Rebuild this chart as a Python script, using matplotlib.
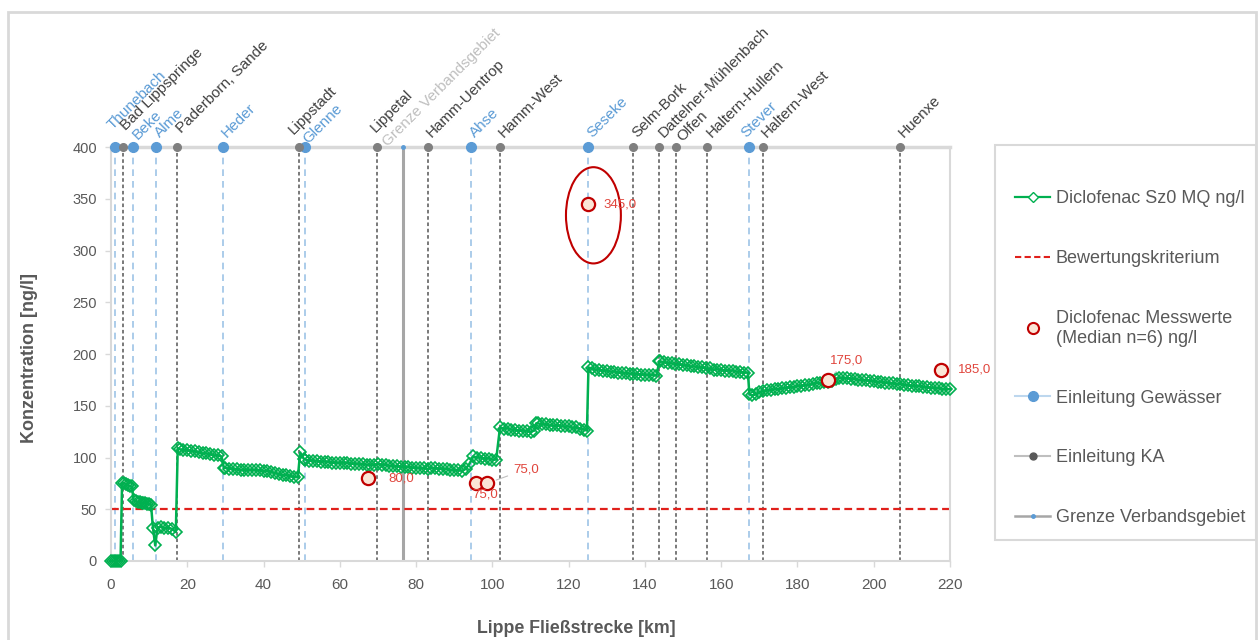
import matplotlib
matplotlib.use("Agg")
import matplotlib.pyplot as plt
from matplotlib.lines import Line2D
from matplotlib.patches import Ellipse, Rectangle

plt.rcParams['font.family'] = ['Liberation Sans', 'DejaVu Sans']

# --- Modelled Diclofenac concentration (Sz0, MQ) along the Lippe -----------
km = [0, 0.5, 1, 1.5, 2, 2.5,
      2.9, 3.5, 4, 4.5, 5, 5.5,
      5.9, 6.5, 7, 7.5, 8, 8.5, 9, 9.5, 10, 10.5,
      11, 11.6, 12.2, 13, 14, 15, 16, 17,
      17.5, 18, 19, 20, 21, 22, 23, 24, 25, 26, 27, 28, 29,
      29.6, 30, 31, 32, 33, 34, 35, 36, 37, 38, 39, 40, 41, 42, 43, 44, 45,
      46, 47, 48, 49,
      49.6, 50.5, 51, 52, 53, 54, 55, 56, 57, 58, 59, 60, 61, 62, 63, 64, 65,
      66, 67, 68, 69, 70, 71, 72, 73, 74, 75, 76, 77, 78, 79, 80, 81, 82, 83,
      84, 85, 86, 87, 88, 89, 90, 91, 92, 93,
      94, 95, 96, 97, 98, 99, 100, 101,
      102, 103, 104, 105, 106, 107, 108, 109, 110, 111, 111.5, 112, 113, 114,
      115, 116, 117, 118, 119, 120, 121, 122, 123, 124, 124.8,
      125.2, 126, 127, 128, 129, 130, 131, 132, 133, 134, 135, 136, 137, 138,
      139, 140, 141, 142, 143,
      143.8, 144, 145, 146, 147, 148, 149, 150, 151, 152, 153, 154, 155, 156,
      157, 158, 159, 160, 161, 162, 163, 164, 165, 166, 167,
      167.4, 168, 169, 170, 171, 172, 173, 174, 175, 176, 177, 178, 179, 180,
      181, 182, 183, 184, 185, 186, 187, 188, 189, 190, 191, 192, 193, 194,
      195, 196, 197, 198, 199, 200, 201, 202, 203, 204, 205, 206, 207, 208,
      209, 210, 211, 212, 213, 214, 215, 216, 217, 218, 219, 220]

sz0 = [0, 0, 0, 0, 0, 0,
       75, 75, 74, 73, 72, 72,
       59, 58, 57, 57, 56, 56, 56, 55, 55, 54,
       32, 15, 32, 33, 32, 32, 31, 28,
       109, 108, 107, 107, 106, 106, 105, 104, 104, 103, 102, 102, 101,
       90, 90, 89, 89, 89, 88, 88, 88, 88, 88, 88, 87, 87, 86, 85, 84, 83,
       83, 82, 81, 81,
       105, 99, 98, 97, 97, 97, 96, 96, 96, 95, 95, 95, 95, 95, 94, 94, 94,
       94, 93, 93, 93, 94, 93, 93, 92, 92, 92, 91, 91, 91, 90, 90, 90, 90, 89,
       90, 90, 89, 89, 89, 88, 88, 88, 87, 89,
       94, 101, 100, 100, 99, 99, 98, 98,
       129, 128, 128, 127, 127, 126, 126, 126, 125, 126, 133, 133, 132, 132,
       131, 131, 131, 130, 130, 130, 129, 129, 128, 127, 126,
       187, 186, 185, 185, 184, 184, 183, 183, 182, 182, 182, 181, 181, 181,
       180, 180, 180, 180, 179,
       193, 193, 192, 191, 191, 190, 190, 189, 189, 188, 188, 187, 187, 186,
       186, 185, 185, 185, 184, 184, 184, 183, 183, 182, 182,
       161, 160, 161, 163, 164, 165, 165, 166, 166, 167, 167, 168, 168, 169,
       169, 170, 170, 171, 172, 172, 173, 173, 174, 176, 177, 177, 177, 176,
       176, 175, 175, 175, 174, 174, 173, 173, 172, 172, 172, 171, 171, 170,
       170, 169, 169, 169, 168, 168, 167, 167, 167, 166, 166, 166]

criterion = 50  # Bewertungskriterium ng/l

# --- Measured medians -------------------------------------------------------
mess_km = [67.4, 95.7, 98.6, 125.1, 188.0, 217.6]
mess_val = [80.0, 75.0, 75.0, 345.0, 175.0, 185.0]

# --- Inflows ---------------------------------------------------------------
gew_names = ["Thunebach", "Beke", "Alme", "Heder", "Glenne", "Ahse",
             "Seseke", "Stever"]
gew_km = [1.0, 5.7, 11.7, 29.3, 50.8, 94.4, 125.1, 167.2]

ka_names = ["Bad Lippspringe", "Paderborn, Sande", "Lippstadt", "Lippetal",
            "Hamm-Uentrop", "Hamm-West", "Selm-Bork", "Dattelner-Mühlenbach",
            "Olfen", "Haltern-Hullern", "Haltern-West", "Huenxe"]
ka_km = [3.1, 17.4, 49.4, 69.8, 83.1, 102.0, 137.0, 143.8, 148.1, 156.4,
         170.9, 206.9]

grenze_name = "Grenze Verbandsgebiet"
grenze_km = 76.6

# label nudges in pixels (dx, dy) for the rotated site names
name_offset = {"Thunebach": (-2, 17), "Bad Lippspringe": (3, 16),
               "Beke": (5, 7), "Paderborn, Sande": (4, 13),
               "Lippstadt": (-6, 12), "Glenne": (4, 3), "Lippetal": (-2, 14),
               grenze_name: (-15, 0), "Olfen": (6, 5), "Stever": (-2, 9)}
default_offset = (4, 9)

# offsets for the value labels of the measurements (pixels, ha, va)
value_offset = [(20, 0, 'left', 'center'), (9, -11, 'center', 'center'),
                (26, 14, 'left', 'center'), (15, -1, 'left', 'center'),
                (19, 19, 'center', 'center'), (17, 0, 'left', 'center')]

GREEN = '#00B050'
BLUE = '#5B9BD5'
LBLUE = '#9DC3E6'
DGREY = '#595959'
RED = '#C00000'
LRED = '#E0453C'

W, H = 1258, 640
fig = plt.figure(figsize=(W / 100, H / 100), dpi=100)
ax = fig.add_axes([111 / W, 1 - 561 / H, (950 - 111) / W, (561 - 147) / H])
ax.set_xlim(0, 220)
ax.set_ylim(0, 400)

# vertical marker lines for inflows and boundary
ax.vlines(gew_km, 0, 400, colors=LBLUE, linestyles=(0, (4, 3)), lw=1.2,
          zorder=1)
ax.vlines(ka_km, 0, 400, colors='#6E6E6E', linestyles=(0, (2, 1.5)), lw=1.3,
          zorder=1)
ax.vlines([grenze_km], 0, 400, colors='#A6A6A6', lw=2.2, zorder=1)

# dots on the top line
ax.plot(gew_km, [400] * len(gew_km), 'o', color=BLUE, ms=7, clip_on=False,
        zorder=4)
ax.plot(ka_km, [400] * len(ka_km), 'o', color='#7F7F7F', ms=5.5,
        clip_on=False, zorder=4)
ax.plot([grenze_km], [400], 'o', color=BLUE, ms=2.5, clip_on=False, zorder=4)

# site names
def name_label(x, txt, color):
    dx, dy = name_offset.get(txt, default_offset)
    ax.annotate(txt, (x, 400), xytext=(dx, dy), textcoords='offset pixels',
                rotation=45, rotation_mode='anchor', ha='left', va='baseline',
                fontsize=11, color=color, annotation_clip=False)

for x, t in zip(gew_km, gew_names):
    name_label(x, t, BLUE)
for x, t in zip(ka_km, ka_names):
    name_label(x, t, '#404040')
name_label(grenze_km, grenze_name, '#BFBFBF')

# criterion line
ax.axhline(criterion, color='#E0201B', ls=(0, (3.5, 2)), lw=1.6, zorder=2)

# modelled concentration
ax.plot(km, sz0, color=GREEN, lw=1.8, marker='D', ms=6.5, mfc='none',
        mec=GREEN, mew=1.2, clip_on=False, zorder=3)

# measured medians
ax.plot(mess_km, mess_val, ls='none', marker='o', ms=9.5, mfc='#FBE5D6',
        mec=RED, mew=1.6, zorder=5)
for x, v, (dx, dy, ha, va) in zip(mess_km, mess_val, value_offset):
    lead = dict(arrowstyle='-', color='#BFBFBF', lw=0.8,
                shrinkA=2, shrinkB=7) if dy > 10 else None
    ax.annotate(f"{v:.1f}".replace('.', ','), (x, v), xytext=(dx, dy),
                textcoords='offset pixels', ha=ha, va=va, fontsize=9.5,
                color=LRED, arrowprops=lead, zorder=6)

# highlight of the outlier
peak = mess_val.index(max(mess_val))
ax.add_patch(Ellipse((mess_km[peak] + 1.4, mess_val[peak] - 11), 14.4, 93,
                     fill=False, ec=RED, lw=1.5, zorder=5))

# axes styling
for s in ax.spines.values():
    s.set_color('#D9D9D9')
    s.set_linewidth(1.5)
ax.spines['top'].set_linewidth(2.5)
ax.set_xticks(range(0, 221, 20))
ax.set_yticks(range(0, 401, 50))
ax.tick_params(axis='both', colors='#D9D9D9', labelcolor=DGREY,
               labelsize=11, length=4, width=1)
ax.tick_params(axis='y', labelsize=10.5)
ax.tick_params(axis='x', pad=8)
ax.tick_params(axis='y', pad=6)

ax.set_ylabel('Konzentration [ng/l]', fontsize=13, fontweight='bold',
              color=DGREY)
ax.yaxis.set_label_coords(-0.087, 0.49)
ax.set_xlabel('Lippe Fließstrecke [km]', fontsize=12.8, fontweight='bold',
              color=DGREY)
ax.xaxis.set_label_coords((576 - 111) / 839, -0.143)

# legend
handles = [
    Line2D([], [], color=GREEN, lw=1.6, marker='D', ms=5, mfc='white',
           mec=GREEN, mew=1.0),
    Line2D([], [], color='#E0201B', ls=(0, (3, 1.6)), lw=1.5),
    Line2D([], [], ls='none', marker='o', ms=8, mfc='#FBE5D6', mec=RED,
           mew=1.5),
    Line2D([], [], color='#BDD7EE', lw=1.5, marker='o', ms=7, mfc=BLUE,
           mec=BLUE),
    Line2D([], [], color='#BFBFBF', lw=1.5, marker='o', ms=5, mfc='#595959',
           mec='#595959'),
    Line2D([], [], color='#A6A6A6', lw=1.8, marker='o', ms=2.5, mfc=BLUE,
           mec=BLUE),
]
labels = ['Diclofenac Sz0 MQ ng/l', 'Bewertungskriterium',
          'Diclofenac Messwerte\n(Median n=6) ng/l', 'Einleitung Gewässer',
          'Einleitung KA', 'Grenze Verbandsgebiet']
leg_top = 1 - 190 / H
leg = fig.legend(handles, labels, loc='upper left',
                 bbox_to_anchor=(1015 / W, leg_top - 0.1, 0.2, 0.1),
                 frameon=False, fontsize=13, labelcolor=DGREY,
                 labelspacing=2.38, handlelength=1.95, handletextpad=0.3,
                 borderpad=0, borderaxespad=0)

# legend frame
fig.patches.append(Rectangle((995 / W, 1 - 540 / H), (1256 - 995) / W,
                             (540 - 145) / H, transform=fig.transFigure,
                             fill=False, ec='#D9D9D9', lw=1.5))

# outer chart frame
fig.patches.append(Rectangle((8 / W, -0.01), (1256 - 8) / W, 1 - 12 / H + 0.01,
                             transform=fig.transFigure, fill=False,
                             ec='#D9D9D9', lw=2))

fig.savefig('out.png', dpi=100)
